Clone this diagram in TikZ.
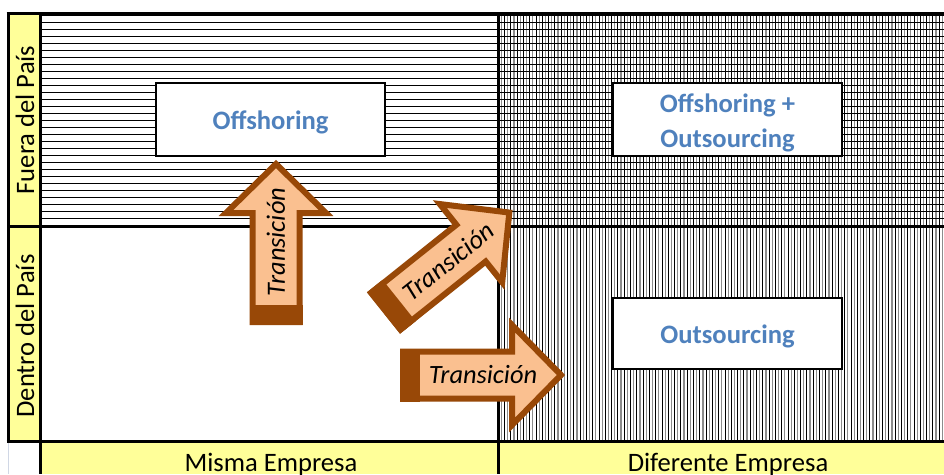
\documentclass[tikz,border=0pt]{standalone}
\usepackage{fontspec}
\setmainfont{Carlito}
\definecolor{cellyellow}{HTML}{FFFF99}
\definecolor{labelblue}{HTML}{4F81BD}
\definecolor{arrowfill}{HTML}{FAC090}
\definecolor{arrowedge}{HTML}{984807}
\definecolor{sheetgrid}{HTML}{D0D7E5}

% A thick "Transición" block arrow: #1 tail position, #2 angle, #3 node name
\newcommand\transitionarrow[3]{%
  \begin{scope}[shift={#1}, rotate=#2]
    \filldraw[blockarrow] (3,-23.5) -- (112,-23.5) -- (112,-50) -- (161,0)
      -- (112,50) -- (112,23.5) -- (3,23.5) -- cycle;
    \fill[arrowedge] (0,-26.5) rectangle (20,26.5);
    \node[arrowlabel, transform shape] (#3) at (83,0) {Transición};
  \end{scope}}

\begin{document}
\begin{tikzpicture}[x=1pt, y=-1pt,
    frame/.style={line width=3pt, black},
    hatch/.style={line width=1pt, black},
    hatchgray/.style={line width=1.2pt, black!45},
    box/.style={draw=black, line width=2pt, fill=white, minimum width=229pt,
      minimum height=73pt, inner sep=0pt},
    boxtext/.style={align=center, font=\fontsize{26.6}{35}\selectfont\bfseries,
      text=labelblue, inner sep=0pt, yshift=-3pt},
    header/.style={font=\fontsize{26.6}{31}\selectfont, text=black, inner sep=0pt},
    blockarrow/.style={fill=arrowfill, draw=arrowedge, line width=6pt, line join=miter},
    arrowlabel/.style={font=\fontsize{26.4}{31}\selectfont\itshape, text=black, inner sep=0pt}]
  \useasboundingbox (0,0) rectangle (944,474);
  \fill[white] (0,0) rectangle (944,474);

  % header strips
  \fill[cellyellow] (8,13) rectangle (40,441);
  \fill[cellyellow] (40,441) rectangle (944,474);
  \draw[sheetgrid, line width=1pt] (8,441) -- (8,474);

  % vertical hatching of the right-hand column
  \begin{scope}
    \clip (498,13) rectangle (944,441);
    \foreach \k in {0,...,71} {
      \draw[hatchgray] (501.3+6.3*\k,13) -- (501.3+6.3*\k,441);
      \draw[hatch] (504.5+6.3*\k,13) -- (504.5+6.3*\k,441);
    }
  \end{scope}

  % horizontal hatching of the top row
  \begin{scope}
    \clip (40,13) rectangle (944,226);
    \foreach \k in {0,...,29}
      \draw[hatch] (40,15.3+7*\k) -- (944,15.3+7*\k);
  \end{scope}

  % table frame
  \draw[frame] (6.5,13) -- (944,13);
  \draw[frame] (8,13) -- (8,441);
  \draw[frame] (40,13) -- (40,474);
  \draw[frame] (8,226) -- (944,226);
  \draw[frame] (6.5,441) -- (944,441);
  \draw[frame] (498,13) -- (498,474);

  % axis labels
  \node[header, rotate=90] (fuera) at (25,120) {Fuera del País};
  \node[header, rotate=90] (dentro) at (25,336) {Dentro del País};
  \node[header, anchor=base] (misma) at (271,471) {Misma Empresa};
  \node[header, anchor=base] (diferente) at (728,471) {Diferente Empresa};

  % quadrant boxes
  \node[box] (offshoring) at (270.5,119.5) {};
  \node[boxtext] (offshoringtext) at (offshoring.center) {Offshoring};
  \node[box] (offout) at (727.5,119.5) {};
  \node[boxtext] (offouttext) at (offout.center) {Offshoring +\\Outsourcing};
  \node[box, minimum height=71pt] (outsourcing) at (727.5,333.5) {};
  \node[boxtext] (outsourcingtext) at (outsourcing.center) {Outsourcing};

  % transition arrows
  \transitionarrow{(276,325)}{90}{tup}
  \transitionarrow{(383.5,313)}{38.6}{tdiag}
  \transitionarrow{(400,375)}{0}{tright}
\end{tikzpicture}
\end{document}
